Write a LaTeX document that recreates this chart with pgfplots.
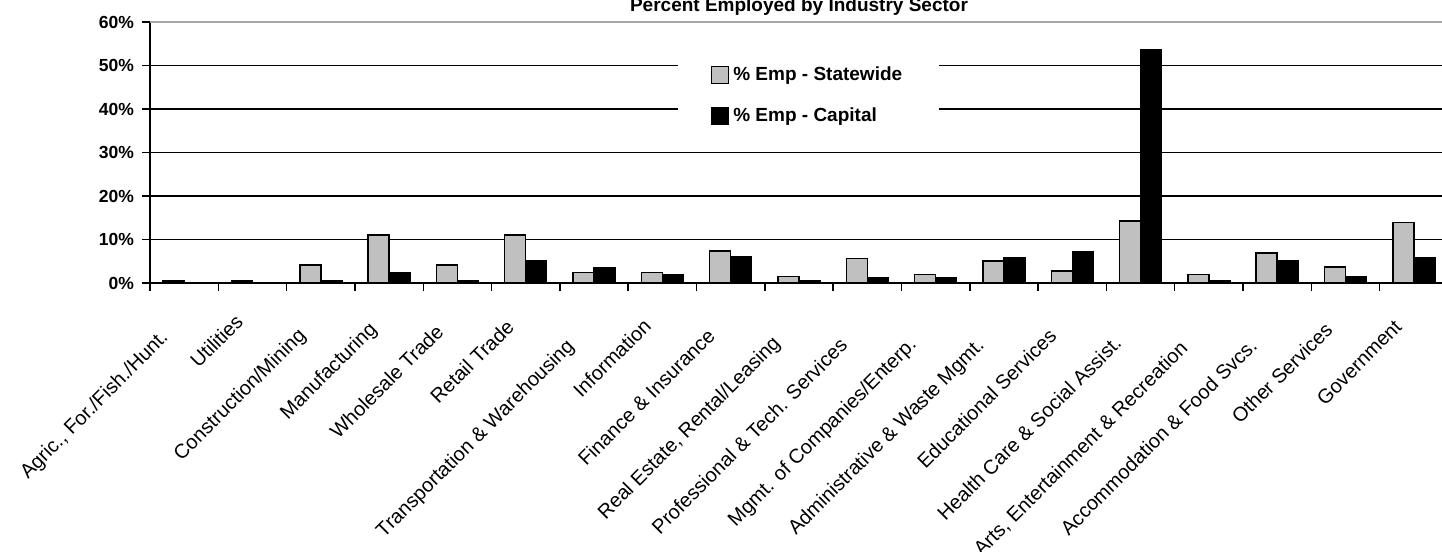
\documentclass[border=0pt]{standalone}
\usepackage{fontspec}
\setmainfont{Liberation Sans}
\usepackage{pgfplots}
\pgfplotsset{compat=1.18}
\definecolor{silv}{RGB}{192,192,192}
% Excel drops longer rotated labels a little lower: pad each label in proportion to its width
\newcommand\lab[1]{\sbox0{#1}\rule{0pt}{\dimexpr\ht0+0.045\wd0\relax}\usebox0\kern0.12\wd0}

\begin{document}
\begin{tikzpicture}
\begin{axis}[
    at={(0,0)}, anchor=south west,
    scale only axis,
    width=649pt, height=130.5pt,
    xmin=0.5, xmax=19.5,
    ymin=0, ymax=60,
    ybar=0pt, bar width=10.5pt,
    axis x line*=bottom, axis y line*=left,
    axis line style={line width=0.75pt},
    tick align=outside,
    major tick length=4pt, minor tick length=4pt,
    ytick={0,10,...,50},
    extra y ticks={60},
    extra y tick style={grid style={draw=gray!70, line width=0.75pt}},
    ymajorgrids,
    grid style={draw=black, line width=0.75pt},
    /pgf/number format/assume math mode=true,
    yticklabel={\pgfmathprintnumber{\tick}\%},
    yticklabel style={xshift=-0.5pt, font=\bfseries\fontsize{8.75}{10}\selectfont},
    ytick style={black, line width=0.75pt},
    xtick={1,...,19},
    major x tick style={draw=none},
    minor xtick={0.5,1.5,...,19.5},
    minor x tick style={black, line width=0.75pt},
    xticklabels={\lab{Agric., For./Fish./Hunt.},\lab{Utilities},\lab{Construction/Mining},\lab{Manufacturing},\lab{Wholesale Trade},\lab{Retail Trade},\lab{Transportation \& Warehousing},\lab{Information},\lab{Finance \& Insurance},\lab{Real Estate, Rental/Leasing},\lab{Professional \& Tech. Services},\lab{Mgmt. of Companies/Enterp.},\lab{Administrative \& Waste Mgmt.},\lab{Educational Services},\lab{Health Care \& Social Assist.},\lab{Arts, Entertainment \& Recreation},\lab{Accommodation \& Food Svcs.},\lab{Other Services},\lab{Government}},
    xticklabel style={xshift=-7.5pt, yshift=-7pt, rotate=45, anchor=north east, inner sep=0pt, font=\fontsize{10}{12}\selectfont},
    title={Percent Employed by Industry Sector},
    title style={at={(0.5,1)}, anchor=base, yshift=-0.5pt, font=\bfseries\fontsize{9.5}{11}\selectfont},
    legend style={at={(axis cs:8.22,43.1)}, anchor=west, draw=none, fill=white,
        inner xsep=16.5pt, inner ysep=9pt, row sep=8pt,
        font=\bfseries\fontsize{9.5}{11}\selectfont},
    legend cell align=left,
    legend image code/.code={\draw[#1, line width=0.75pt] (0pt,-4.25pt) rectangle (8.5pt,4.25pt);},
]
\addplot[draw=black, fill=silv, line width=0.75pt] coordinates {
    (1,0.5) (2,0.5) (3,4.1) (4,11.0) (5,4.1) (6,11.0) (7,2.4) (8,2.4) (9,7.4) (10,1.45)
    (11,5.6) (12,1.9) (13,5.1) (14,2.8) (15,14.3) (16,1.9) (17,6.9) (18,3.7) (19,13.9)
};
\addplot[draw=black, fill=black, line width=0.75pt] coordinates {
    (1,0) (2,0) (3,0.5) (4,2.4) (5,0.5) (6,5.2) (7,3.4) (8,2.0) (9,6.1) (10,0.5)
    (11,1.1) (12,1.1) (13,5.7) (14,7.1) (15,53.7) (16,0.5) (17,5.2) (18,1.5) (19,5.7)
};
\legend{\% Emp - Statewide, \% Emp - Capital}
\end{axis}
\pgfresetboundingbox
\path[use as bounding box] (-75pt,-134.5pt) rectangle (646pt,141.5pt);
\end{tikzpicture}
\end{document}
